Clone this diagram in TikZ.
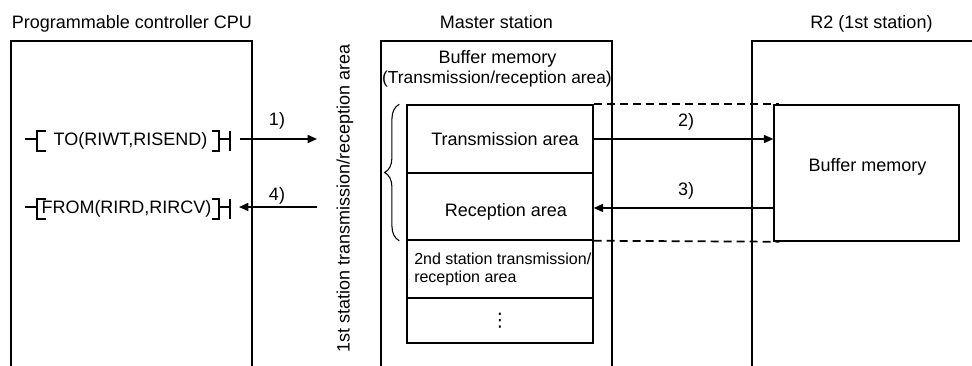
\documentclass[tikz,border=0pt]{standalone}
\usepackage{fontspec}
\setmainfont{Liberation Sans}
\newfontfamily\dejavu{DejaVu Sans}
\usetikzlibrary{arrows.meta,decorations.pathreplacing}
\begin{document}
\begin{tikzpicture}[x=0.75pt,y=-0.75pt,
  txt/.style={inner sep=0pt,font=\fontsize{13.5}{16}\selectfont},
  smalltxt/.style={inner sep=0pt,font=\fontsize{12}{14}\selectfont},
  boxline/.style={draw,line width=0.85pt},
  cell/.style={draw,line width=1.1pt,rectangle,inner sep=0pt,minimum width=139.5pt},
  flow/.style={line width=1.2pt,-{Triangle[length=7pt,width=6pt]}},
  ladder/.style={line width=1.1pt},
  dash line/.style={line width=1.3pt,dash pattern=on 6pt off 3.75pt}
]
\useasboundingbox (0,0) rectangle (972,365);

% outer frames (open at the bottom)
\draw[boxline] (11,368) -- (11,41) -- (252,41) -- (252,368);
\draw[boxline] (381,368) -- (381,41) -- (612,41) -- (612,368);
\draw[boxline] (752,368) -- (752,41) -- (975,41);

% titles
\node[txt,anchor=base] (cputitle) at (132,28.5) {Programmable controller CPU};
\node[txt,anchor=base] (mstitle) at (496.5,28.5) {Master station};
\node[txt,anchor=base] (r2title) at (871.5,28.5) {R2 (1st station)};

% master station buffer memory
\node[txt,anchor=base] (bm1) at (497.5,63.5) {Buffer memory};
\node[txt,anchor=base,font=\fontsize{13}{15}\selectfont] (bm2) at (497,83.5) {(Transmission/reception area)};

\node[cell,minimum height=51pt] (tx) at (500,139) {};
\node[cell,minimum height=50.25pt] (rx) at (500,206.5) {};
\node[cell,minimum height=43.5pt] (st2) at (500,269) {};
\node[cell,minimum height=33.75pt] (more) at (500,320.5) {};

\node[txt,anchor=base] (txl) at (505,145.5) {Transmission area};
\node[txt,anchor=base] (rxl) at (506,216) {Reception area};
\node[smalltxt,anchor=base west] (st2a) at (414,264.3) {2nd station transmission/};
\node[smalltxt,anchor=base west] (st2b) at (414,282.7) {reception area};
\node[inner sep=0pt,font=\dejavu\fontsize{14}{16}\selectfont] (vd) at (500,321) {⋮};

% brace and vertical label
\draw[decorate,decoration={brace,amplitude=11pt},line width=0.8pt]
  ([xshift=-5.25pt]rx.south west) -- ([xshift=-5.25pt]tx.north west);
\node[txt,rotate=90] (vlabel) at (345,198.5) {1st station transmission/reception area};

% R2 buffer memory
\node[draw,line width=1.1pt,rectangle,inner sep=0pt,minimum width=138.75pt,minimum height=102pt] (r2buf) at (866.5,173) {};
\node[txt,anchor=base] (r2bl) at (867.5,171) {Buffer memory};

% dashed correspondence lines
\draw[dash line] (tx.north east) -- ([xshift=4.5pt]r2buf.north west);
\draw[dash line] (rx.south east) -- ([xshift=4.5pt]r2buf.south west);

% arrows 2) and 3)
\draw[flow] (tx.east) -- (tx.east -| r2buf.west);
\draw[flow] ([yshift=-1.1pt]rx.east -| r2buf.west) -- ([yshift=-1.1pt]rx.east);
\node[txt,anchor=base] (l2) at (686,126.5) {2)};
\node[txt,anchor=base] (l3) at (686,195) {3)};

% ladder instructions
\node[txt,anchor=base] (toins) at (130.5,145) {TO(RIWT,RISEND)};
\node[txt,anchor=base] (fromins) at (126.5,213) {FROM(RIRD,RIRCV)};

\draw[ladder] (25,139) -- (37,139);
\draw[ladder] (46,131) -- (37,131) -- (37,151) -- (46,151);
\draw[ladder] (212,131) -- (219,131) -- (219,151) -- (212,151);
\draw[ladder] (219,139) -- (230,139);
\draw[ladder] (230,131) -- (230,151);

\draw[ladder] (25,207) -- (37,207);
\draw[ladder] (46,199) -- (37,199) -- (37,219) -- (46,219);
\draw[ladder] (212,199) -- (219,199) -- (219,219) -- (212,219);
\draw[ladder] (219,207) -- (230,207);
\draw[ladder] (230,199) -- (230,219);

% arrows 1) and 4)
\coordinate (a1s) at (240,139);
\coordinate (a1e) at (317,139);
\coordinate (a4s) at (317,207);
\coordinate (a4e) at (239,207);
\draw[flow] (a1s) -- (a1e);
\draw[flow] (a4s) -- (a4e);
\node[txt,anchor=base] (l1) at (277,125) {1)};
\node[txt,anchor=base] (l4) at (277,200) {4)};
\end{tikzpicture}
\end{document}
